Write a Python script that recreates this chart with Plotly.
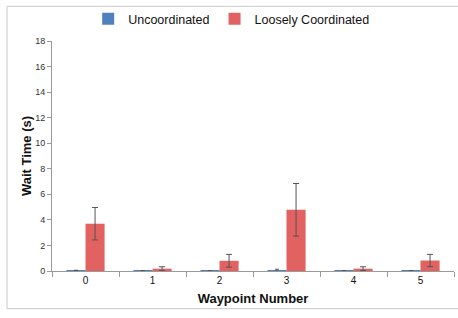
import plotly.graph_objects as go

categories = ["0", "1", "2", "3", "4", "5"]
uncoord = [0.05, 0.04, 0.04, 0.06, 0.04, 0.04]
uncoord_err = [0.0, 0.0, 0.0, 0.08, 0.0, 0.0]
loose = [3.70, 0.18, 0.80, 4.79, 0.18, 0.82]
loose_err = [1.27, 0.15, 0.50, 2.06, 0.15, 0.48]
y_ticks = [0, 2, 4, 6, 8, 10, 12, 14, 16, 18]

FONT = "Liberation Sans"

fig = go.Figure()
fig.add_trace(go.Bar(
    x=categories, y=uncoord, name="Uncoordinated",
    marker=dict(color="#4f81bd", line=dict(width=0)),
    error_y=dict(type="data", array=uncoord_err, color="#555555", thickness=1, width=2),
))
fig.add_trace(go.Bar(
    x=categories, y=loose, name="Loosely Coordinated",
    marker=dict(color="#e26262", line=dict(width=0)),
    error_y=dict(type="data", array=loose_err, color="#555555", thickness=1, width=3),
))

# paper coords: x 0->52px, 1->454px ; y 0->271px, 1->39px
fig.add_shape(type="rect", xref="paper", yref="paper",
              x0=(7 - 52) / 402, x1=2.0,
              y0=(271 - 309) / 232, y1=(271 - 4) / 232,
              line=dict(color="#c8c8c8", width=1), layer="below")

fig.update_layout(
    width=458, height=318,
    margin=dict(l=52, r=4, t=39, b=47),
    paper_bgcolor="white", plot_bgcolor="white",
    barmode="group", bargap=0.43, bargroupgap=0,
    font=dict(family=FONT, color="#222222"),
    legend=dict(orientation="h", x=0.447, xanchor="center", y=(271 - 17) / 232, yanchor="middle",
                font=dict(size=12.5, color="#111111"), itemwidth=30, bgcolor="rgba(0,0,0,0)"),
    xaxis=dict(
        automargin=False,
        showline=True, linecolor="#9a9a9a", linewidth=1,
        ticks="outside", tickson="boundaries", ticklen=5, tickcolor="#9a9a9a",
        tickfont=dict(size=10, color="#111111"),
        title=dict(text="<b>Waypoint Number</b>", font=dict(size=13, color="#111111"), standoff=8),
        showgrid=False,
    ),
    yaxis=dict(
        automargin=False,
        range=[0, 18], tickvals=y_ticks, showline=True, linecolor="#9a9a9a", linewidth=1,
        ticks="outside", ticklen=4, tickcolor="#9a9a9a",
        tickfont=dict(size=9, color="#333333"),
        title=dict(text="<b>Wait Time (s)</b>", font=dict(size=13, color="#111111"), standoff=0),
        showgrid=False, zeroline=False,
    ),
)

fig.write_html("out.html", config={"displayModeBar": False},
               post_script="document.body.style.margin='0';document.body.style.overflow='hidden';")
